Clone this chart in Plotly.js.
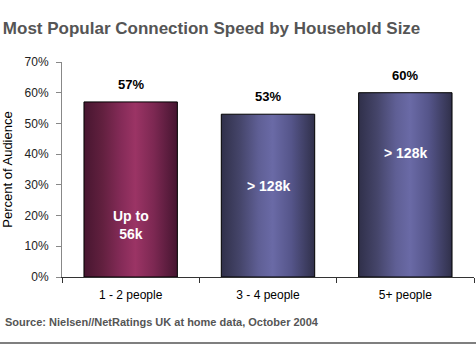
<!DOCTYPE html>
<html>
<head>
<meta charset="utf-8">
<script src="https://cdn.plot.ly/plotly-3.0.1.min.js"></script>
<style>html,body{margin:0;padding:0;background:#fff;}#chart{width:476px;height:360px;}</style>
</head>
<body>
<div id="chart"></div>
<script>
const categories = ['1 - 2 people', '3 - 4 people', '5+ people'];
const values = [57, 53, 60];
const valueLabels = ['57%', '53%', '60%'];
const speedLabels = ['Up to<br>56k', '> 128k', '> 128k'];
const speedLabelY = [17, 29.5, 40.5];
const yTickVals = [0, 10, 20, 30, 40, 50, 60, 70];
const yTickText = ['0%', '10%', '20%', '30%', '40%', '50%', '60%', '70%'];

const FONT = 'Arial, Liberation Sans, sans-serif';

const trace = {
  type: 'bar',
  x: categories,
  y: values,
  width: 0.68,
  marker: {color: ['#7a2550', '#505080', '#505080'], line: {color: '#000', width: 1}},
  hoverinfo: 'none'
};

const annotations = [];
categories.forEach((c, i) => {
  annotations.push({
    x: c, y: values[i], xref: 'x', yref: 'y', yanchor: 'bottom', yshift: 8,
    text: '<b>' + valueLabels[i] + '</b>', showarrow: false,
    font: {family: FONT, size: 13, color: '#000'}
  });
  annotations.push({
    x: c, y: speedLabelY[i], xref: 'x', yref: 'y',
    text: '<b>' + speedLabels[i] + '</b>', showarrow: false,
    font: {family: FONT, size: 14, color: '#fff'}
  });
});
annotations.push({
  xref: 'paper', yref: 'paper', x: -0.143, y: -0.21, xanchor: 'left', yanchor: 'middle',
  text: '<b>Source: Nielsen//NetRatings UK at home data, October 2004</b>', showarrow: false,
  font: {family: FONT, size: 11, color: '#555'}
});

const layout = {
  width: 476, height: 360,
  margin: {l: 62, r: 2, t: 62, b: 83},
  paper_bgcolor: '#fff', plot_bgcolor: '#fff',
  showlegend: false,
  title: {
    text: '<b>Most Popular Connection Speed by Household Size</b>',
    x: 0.006, xanchor: 'left', xref: 'container',
    y: 0.922, yanchor: 'middle', yref: 'container',
    font: {family: FONT, size: 17, color: '#555'}
  },
  xaxis: {
    type: 'category',
    showline: true, linecolor: '#333', linewidth: 1,
    ticks: 'outside', ticklen: 5, tickcolor: '#333',
    tickson: 'boundaries',
    ticklabelstandoff: 7,
    showgrid: false, zeroline: false,
    tickfont: {family: FONT, size: 12, color: '#000'}
  },
  yaxis: {
    range: [0, 70],
    tickvals: yTickVals, ticktext: yTickText,
    showline: true, linecolor: '#888', linewidth: 1,
    ticks: 'outside', ticklen: 5, tickcolor: '#888',
    ticklabelstandoff: 5,
    showgrid: false, zeroline: false,
    tickfont: {family: FONT, size: 12, color: '#222'},
    title: {text: 'Percent of Audience', standoff: 10,
      font: {family: FONT, size: 13, color: '#000'}}
  },
  annotations: annotations,
  shapes: [{
    type: 'line', xref: 'paper', yref: 'paper',
    x0: -0.16, x1: 1.01, y0: -0.307, y1: -0.307,
    line: {color: '#555', width: 1.5}
  }]
};

Plotly.newPlot('chart', [trace], layout, {displayModeBar: false, staticPlot: true}).then(gd => {
  const svg = gd.querySelector('svg.main-svg');
  const ns = 'http://www.w3.org/2000/svg';
  let defs = svg.querySelector('defs');
  if (!defs) { defs = document.createElementNS(ns, 'defs'); svg.insertBefore(defs, svg.firstChild); }
  function grad(id, stops) {
    const g = document.createElementNS(ns, 'linearGradient');
    g.setAttribute('id', id);
    g.setAttribute('x1', '0'); g.setAttribute('x2', '1'); g.setAttribute('y1', '0'); g.setAttribute('y2', '0');
    stops.forEach(([o, c]) => {
      const s = document.createElementNS(ns, 'stop');
      s.setAttribute('offset', o); s.setAttribute('stop-color', c);
      g.appendChild(s);
    });
    defs.appendChild(g);
  }
  grad('gMaroon', [[0, '#471630'], [0.2, '#62203f'], [0.4, '#852b58'], [0.55, '#9b3465'], [0.75, '#7c2852'], [1, '#451530']]);
  grad('gBlue', [[0, '#30304a'], [0.2, '#45456a'], [0.4, '#5f5f95'], [0.55, '#6a6aa6'], [0.75, '#55558a'], [1, '#30304a']]);
  const ids = ['gMaroon', 'gBlue', 'gBlue'];
  gd.querySelectorAll('.bars .point path').forEach((p, i) => {
    p.style.fill = 'url(#' + ids[i] + ')';
  });
});
</script>
</body>
</html>
